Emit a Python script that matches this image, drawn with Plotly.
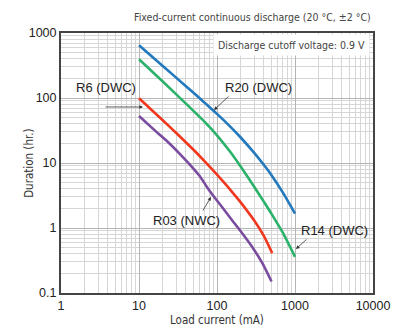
import plotly.graph_objects as go

# load current (mA) / duration (hr.)
r20_current = [10, 20, 40, 70, 100, 150, 200, 300, 400, 500, 700, 1000]
r20_hours = [650, 314, 152, 84, 57, 35.7, 24.9, 14.3, 9.3, 6.5, 3.5, 1.67]

r14_current = [10, 20, 40, 70, 100, 150, 200, 300, 400, 500, 700, 1000]
r14_hours = [394, 181, 82, 42.5, 26.7, 14.5, 8.9, 4.3, 2.52, 1.65, 0.84, 0.36]

r6_current = [10, 20, 30, 50, 70, 100, 150, 200, 300, 400, 510]
r6_hours = [99, 46, 29, 16, 10.5, 6.6, 3.8, 2.5, 1.3, 0.75, 0.41]

r03_current = [10, 17, 24, 34, 47, 60, 75, 90, 120, 150, 200, 280, 380, 500]
r03_hours = [53, 29.6, 20.5, 13.5, 8.9, 6.3, 4.2, 3.1, 2.0, 1.4, 0.9, 0.52, 0.29, 0.15]

x_ticks = [1, 10, 100, 1000, 10000]
y_ticks = [0.1, 1, 10, 100, 1000]

series = [
    ("R20 (DWC)", r20_current, r20_hours, "#2279be"),
    ("R14 (DWC)", r14_current, r14_hours, "#2bb26a"),
    ("R6 (DWC)", r6_current, r6_hours, "#f2371f"),
    ("R03 (NWC)", r03_current, r03_hours, "#7a4ca0"),
]

cond = "DejaVu Sans Condensed, sans-serif"
reg = "Liberation Sans, Arial, sans-serif"

fig = go.Figure()
for name, x, y, col in series:
    fig.add_trace(go.Scatter(x=x, y=y, mode="lines", name=name,
                             line=dict(color=col, width=2.6, shape="spline", smoothing=0.6)))

arrow_col = "#333333"

# curve labels with leader arrows (positions in log units)
labels = [
    ("R6 (DWC)", 0.577, 2.154),
    ("R20 (DWC)", 2.538, 2.154),
    ("R03 (NWC)", 1.603, 0.123),
    ("R14 (DWC)", 3.5, -0.031),
]
for text, x, y in labels:
    fig.add_annotation(x=x, y=y, text=text, showarrow=False,
                       font=dict(family=reg, size=13, color="#222"))

arrows = [
    # head, tail
    ((1.051, 1.862), (0.551, 1.862)),
    ((1.962, 1.815), (2.167, 2.046)),
    ((1.923, 0.477), (1.808, 0.246)),
    ((3.013, -0.323), (3.167, -0.154)),
]
for (hx, hy), (tx, ty) in arrows:
    fig.add_annotation(x=hx, y=hy, ax=tx, ay=ty, axref="x", ayref="y",
                       showarrow=True, arrowhead=2, arrowsize=0.9, arrowwidth=0.8,
                       arrowcolor=arrow_col, text="")
# elbow part of the R6 leader
fig.add_shape(type="line", x0=0.551, y0=2.02, x1=0.551, y1=1.862,
              line=dict(color=arrow_col, width=0.8))

fig.add_annotation(xref="paper", yref="paper", x=1, y=1, yshift=8,
                   xanchor="right", yanchor="bottom", showarrow=False,
                   text="Fixed-current continuous discharge (20 °C, ±2 °C)",
                   font=dict(family=cond, size=10.5, color="#444"))
fig.add_annotation(xref="paper", yref="paper", x=0.99, y=0.995,
                   xanchor="right", yanchor="top", showarrow=False,
                   text="Discharge cutoff voltage: 0.9 V", bgcolor="white",
                   borderpad=4,
                   font=dict(family=cond, size=10.5, color="#444"))

# axis titles
fig.add_annotation(xref="paper", yref="paper", x=0.5, y=-0.104,
                   xanchor="center", yanchor="middle",
                   showarrow=False, text="Load current (mA)",
                   font=dict(family=cond, size=11.5, color="#333"))
fig.add_annotation(xref="paper", yref="paper", x=-0.103, y=0.5, textangle=-90,
                   xanchor="center", yanchor="middle",
                   showarrow=False, text="Duration (hr.)",
                   font=dict(family=cond, size=11.5, color="#333"))

axis_common = dict(
    type="log", showline=True, linecolor="#444", linewidth=2, mirror=True,
    showgrid=True, gridcolor="#b5b5b5", gridwidth=1, ticks="", zeroline=False,
    automargin=False,
    tickfont=dict(family=reg, size=12.5, color="#222"),
    minor=dict(showgrid=True, gridcolor="#d6d6d6", gridwidth=1, dtick="D1"),
)

fig.update_xaxes(**axis_common, range=[0, 4], tickvals=x_ticks,
                 ticktext=[str(v) for v in x_ticks])
fig.update_yaxes(**axis_common, range=[-1, 3], tickvals=y_ticks,
                 ticktext=["0.1", "1", "10", "100", "1000"])

# page body adds an 8 px offset, margins compensate for it
fig.update_layout(width=414, height=327, showlegend=False,
                  margin=dict(l=53, r=49, t=25, b=42),
                  paper_bgcolor="white", plot_bgcolor="white")

fig.write_html("out.html")
